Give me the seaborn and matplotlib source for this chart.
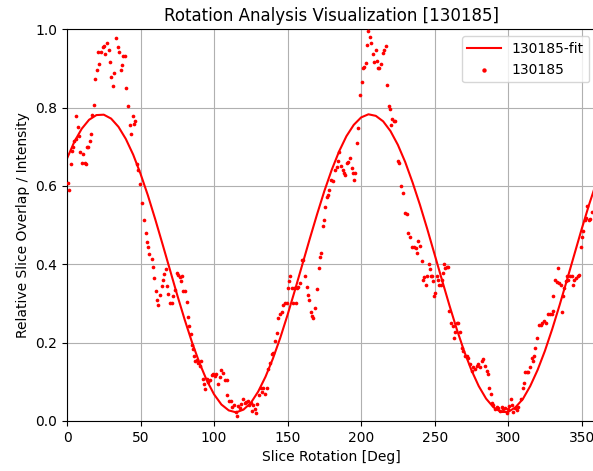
import matplotlib
matplotlib.use("Agg")
import matplotlib.pyplot as plt
import seaborn as sns
import pandas as pd

# Fit curve samples (every 5 degrees)
fit_x = list(range(0, 361, 5))
fit_y = [0.670, 0.713, 0.746, 0.769, 0.781, 0.782, 0.772, 0.751, 0.720, 0.680,
         0.631, 0.576, 0.515, 0.451, 0.386, 0.321, 0.259, 0.201, 0.149, 0.104,
         0.068, 0.042, 0.027, 0.022, 0.029, 0.046, 0.075, 0.113, 0.159, 0.212,
         0.271, 0.334, 0.399, 0.464, 0.527, 0.587, 0.641, 0.688, 0.727, 0.756,
         0.775, 0.783, 0.779, 0.765, 0.740, 0.705, 0.661, 0.609, 0.552, 0.490,
         0.425, 0.360, 0.296, 0.235, 0.179, 0.130, 0.089, 0.057, 0.035, 0.023,
         0.023, 0.035, 0.056, 0.089, 0.130, 0.179, 0.235, 0.296, 0.360, 0.425,
         0.490, 0.552, 0.609]

# Measured points (degrees, intensity)
pts_x = [0.9, 1.4, 2.5, 3.2, 3.9, 4.8, 5.9, 6.2, 7.8, 8.3, 8.8, 9.9, 11.1, 12.2, 12.9,
         13.4, 14.5, 15.6, 16.3, 17.2, 18.4, 19.3, 20.7, 21.3, 22.0, 23.3, 24.2, 25.1,
         26.0, 26.9, 28.5, 29.2, 30.1, 31.5, 32.2, 33.1, 34.5, 35.2, 36.5, 37.2, 37.9,
         39.4, 40.3, 41.2, 42.6, 43.3, 44.6, 45.6, 46.2, 47.4, 48.5, 49.6, 51.2, 52.6,
         53.5, 54.1, 55.2, 55.9, 57.5, 58.4, 59.1, 60.3, 61.4, 61.9,
         63.2, 64.4, 65.5, 66.0, 67.1, 68.3, 69.0, 70.1, 71.1, 72.3, 73.4, 74.5, 75.7,
         76.8, 77.3, 78.0, 79.1, 80.3, 81.4, 82.5, 83.2, 84.1, 84.8, 85.4, 86.3, 87.0,
         88.1, 89.2, 90.3, 91.4, 92.2, 93.1, 93.7, 94.9, 96.0, 97.2, 98.3, 99.4, 100.5,
         101.6, 102.8, 103.9, 105.0, 106.2, 107.3, 108.5, 108.9, 110.3, 111.2, 111.9,
         113.5, 114.8, 115.8, 116.3, 117.5, 118.6, 119.7, 120.9, 122.0, 123.1,
         124.0, 124.9, 125.6, 126.7, 127.8, 128.5, 129.4, 130.8, 131.7, 132.4, 133.5,
         134.6, 135.8, 136.9, 138.0, 139.2, 140.3, 141.4, 142.6, 143.7, 144.8, 146.0,
         147.1, 148.2, 149.4, 150.5, 151.2, 151.6, 152.8, 153.9, 154.6, 155.7, 156.2,
         157.3, 158.4, 159.6, 160.7, 161.8, 163.0, 164.1, 164.8, 165.9, 166.8, 167.5,
         168.6, 170.2, 171.1, 172.0, 172.7, 173.9, 174.8, 175.4, 176.6, 177.7, 178.4,
         179.3, 180.7, 182.2, 183.4, 184.3, 185.2,
         186.3, 187.5, 188.4, 189.0, 190.2, 191.3, 192.4, 193.6, 194.7, 195.4, 195.8,
         197.0, 198.1, 199.2, 200.4, 201.5, 202.2, 203.3, 204.2, 204.9, 206.0, 206.7,
         207.9, 208.8, 209.9, 210.6, 211.7, 212.4, 213.3, 214.7, 215.8, 216.7, 217.8,
         219.0, 219.6, 220.3, 221.2, 222.4, 223.3, 224.9, 225.8, 227.1, 228.7, 230.1,
         231.0, 232.1, 233.2, 234.4, 236.0, 237.3, 238.2, 238.9, 240.0, 241.2, 241.9,
         243.0, 244.1, 245.0, 245.9, 246.6,
         247.3, 248.0, 248.7, 249.6, 250.2, 251.4, 252.5, 253.2, 254.1, 254.8, 255.5,
         256.4, 257.0, 258.2, 259.3, 260.0, 261.1, 262.3, 263.2, 263.8, 265.0, 266.1,
         267.2, 268.4, 269.5, 270.6, 271.8, 272.9, 274.0, 275.2, 276.3, 277.4, 278.6,
         279.7, 280.8, 282.0, 283.1, 284.2, 285.4, 286.5, 287.2, 288.1, 288.8, 289.9,
         291.0, 292.2, 293.3, 294.4, 295.6, 296.7, 297.8, 299.0, 300.1, 300.8, 301.7,
         302.4, 303.5, 304.6, 305.8, 306.9, 308.5, 309.9, 310.8, 311.4, 312.6, 313.7,
         314.8, 316.0, 316.7, 317.6, 318.5, 319.8, 321.2, 322.1, 323.2, 324.4, 325.7,
         327.3, 328.4, 329.6, 330.3, 330.7, 331.8, 333.0, 333.7, 334.6, 335.7, 336.4,
         337.5, 338.2, 339.1, 340.2, 340.9, 342.0, 343.2, 344.3, 345.0, 346.1, 347.3,
         348.4, 349.3, 350.0, 351.1, 352.2, 352.9, 353.8, 354.7, 355.6, 356.8]
pts_y = [0.608, 0.589, 0.657, 0.690, 0.699, 0.714, 0.720, 0.779, 0.751, 0.728, 0.686,
         0.658, 0.682, 0.658, 0.657, 0.699, 0.699, 0.714, 0.733, 0.781, 0.806, 0.873,
         0.895, 0.943, 0.912, 0.942, 0.956, 0.958, 0.936, 0.964, 0.948, 0.917, 0.879,
         0.855, 0.889, 0.979, 0.954, 0.943, 0.897, 0.910, 0.933, 0.931, 0.849, 0.803,
         0.756, 0.733, 0.779, 0.758, 0.765, 0.657, 0.640, 0.606, 0.557, 0.514, 0.479,
         0.458, 0.443, 0.426, 0.414, 0.394, 0.364, 0.332, 0.310, 0.295,
         0.322, 0.345, 0.360, 0.376, 0.388, 0.345, 0.324, 0.301, 0.302, 0.320, 0.335,
         0.379, 0.373, 0.367, 0.358, 0.369, 0.331, 0.331, 0.303, 0.265, 0.242, 0.221,
         0.193, 0.183, 0.166, 0.153, 0.155, 0.149, 0.140, 0.153, 0.108, 0.094, 0.081,
         0.107, 0.099, 0.104, 0.117, 0.120, 0.114, 0.120, 0.095, 0.112, 0.130, 0.123,
         0.104, 0.104, 0.066, 0.052, 0.050, 0.036, 0.042, 0.022, 0.013, 0.039, 0.034,
         0.044, 0.056, 0.047, 0.048, 0.052,
         0.040, 0.047, 0.026, 0.040, 0.030, 0.020, 0.043, 0.066, 0.085, 0.075, 0.085,
         0.068, 0.085, 0.132, 0.149, 0.170, 0.174, 0.204, 0.225, 0.263, 0.272, 0.279,
         0.297, 0.301, 0.301, 0.339, 0.357, 0.371, 0.339, 0.301, 0.339, 0.301, 0.339,
         0.342, 0.352, 0.411, 0.411, 0.369, 0.342, 0.322, 0.309, 0.279, 0.267, 0.263,
         0.289, 0.336, 0.390, 0.418, 0.430, 0.497, 0.514, 0.546, 0.572, 0.576, 0.589,
         0.616, 0.612, 0.641, 0.648, 0.665, 0.686,
         0.652, 0.640, 0.633, 0.629, 0.658, 0.660, 0.671, 0.645, 0.633, 0.616, 0.634,
         0.709, 0.748, 0.832, 0.865, 0.900, 0.903, 0.913, 0.959, 0.995, 0.980, 0.965,
         0.936, 0.917, 0.946, 0.920, 0.902, 0.902, 0.912, 0.940, 0.946, 0.957, 0.858,
         0.805, 0.796, 0.756, 0.770, 0.766, 0.765, 0.665, 0.658, 0.600, 0.583, 0.531,
         0.528, 0.479, 0.470, 0.445, 0.445, 0.441, 0.428, 0.460, 0.447, 0.408, 0.360,
         0.367, 0.346, 0.371, 0.401, 0.388,
         0.371, 0.369, 0.357, 0.320, 0.328, 0.371, 0.360, 0.347, 0.347, 0.360, 0.379,
         0.401, 0.391, 0.394, 0.392, 0.280, 0.250, 0.243, 0.212, 0.227, 0.249, 0.251,
         0.227, 0.187, 0.179, 0.166, 0.166, 0.162, 0.145, 0.128, 0.137, 0.132, 0.140,
         0.145, 0.137, 0.153, 0.159, 0.140, 0.128, 0.119, 0.085, 0.068, 0.047, 0.040,
         0.030, 0.036, 0.032, 0.026, 0.035, 0.030, 0.032, 0.020, 0.030, 0.039, 0.056,
         0.041, 0.024, 0.032, 0.028, 0.036, 0.056, 0.085, 0.098, 0.124, 0.124, 0.126,
         0.137, 0.162, 0.153, 0.166, 0.187, 0.212, 0.246, 0.246, 0.249, 0.255, 0.251,
         0.272, 0.272, 0.272, 0.280, 0.318, 0.360, 0.356, 0.390, 0.352, 0.347, 0.278,
         0.318, 0.339, 0.357, 0.371, 0.359, 0.369, 0.369, 0.347, 0.359, 0.364, 0.371,
         0.373, 0.445, 0.470, 0.484, 0.513, 0.517, 0.548, 0.513, 0.515, 0.533]

title = "Rotation Analysis Visualization [130185]"
xlabel = "Slice Rotation [Deg]"
ylabel = "Relative Slice Overlap / Intensity"
fit_label = "130185-fit"
pts_label = "130185"

fit_df = pd.DataFrame({"x": fit_x, "y": fit_y})
pts_df = pd.DataFrame({"x": pts_x, "y": pts_y})

plt.rcParams["font.family"] = ["DejaVu Sans"]
fig = plt.figure(figsize=(5.93, 4.71), dpi=100)
ax = fig.add_axes([0.1130, 0.1062, 0.8927, 0.8316])

sns.lineplot(data=fit_df, x="x", y="y", ax=ax, color="red", linewidth=1.5,
             sort=False, estimator=None, label=fit_label)
sns.scatterplot(data=pts_df, x="x", y="y", ax=ax, color="red", s=7,
                linewidth=0, label=pts_label, zorder=3)

ax.set_xlim(0, 360)
ax.set_ylim(0, 1.0)
ax.set_xticks(range(0, 351, 50))
ax.set_yticks([0.0, 0.2, 0.4, 0.6, 0.8, 1.0])
ax.grid(True, color="#b0b0b0", linewidth=0.8)
ax.set_axisbelow(True)
ax.set_title(title, fontsize=12)
ax.set_xlabel(xlabel, fontsize=10)
ax.set_ylabel(ylabel, fontsize=10)
ax.tick_params(labelsize=10)
leg = ax.legend(loc="upper right", fontsize=10, scatterpoints=1, markerscale=1.2,
                handlelength=2.4)

fig.savefig("out.png", dpi=100)
